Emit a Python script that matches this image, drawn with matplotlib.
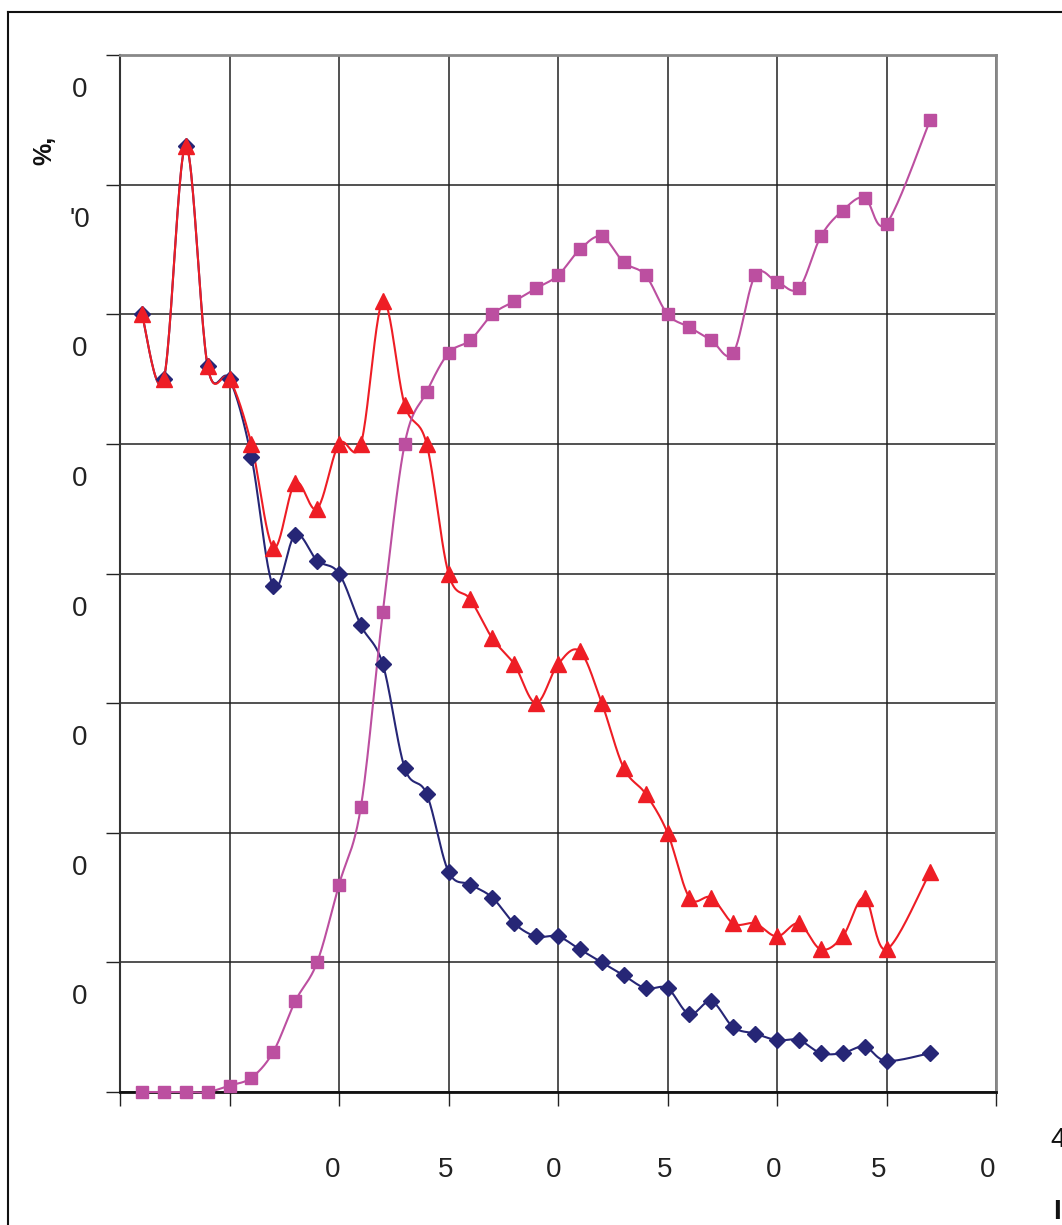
import numpy as np
import matplotlib
matplotlib.use("Agg")
import matplotlib.pyplot as plt
from matplotlib.lines import Line2D
from matplotlib.transforms import blended_transform_factory

# ---------------- data ----------------
x_vals = list(range(1, 36)) + [37]
blue_vals = [60, 55, 73, 56, 55, 49, 39, 43, 41, 40,
             36, 33, 25, 23, 17, 16, 15, 13, 12, 12,
             11, 10, 9, 8, 8, 6, 7, 5, 4.5, 4,
             4, 3, 3, 3.5, 2.4, 3]
red_vals = [60, 55, 73, 56, 55, 50, 42, 47, 45, 50,
            50, 61, 53, 50, 40, 38, 35, 33, 30, 33,
            34, 30, 25, 23, 20, 15, 15, 13, 13, 12,
            13, 11, 12, 15, 11, 17]
magenta_vals = [0, 0, 0, 0, 0.5, 1.1, 3.1, 7, 10, 16,
                22, 37, 50, 54, 57, 58, 60, 61, 62, 63,
                65, 66, 64, 63, 60, 59, 58, 57, 63, 62.5,
                62, 66, 68, 69, 67, 75]
x_ticks = [0, 5, 10, 15, 20, 25, 30, 35, 40]
y_ticks = [0, 10, 20, 30, 40, 50, 60, 70, 80]
x_tick_labels = ["0", "5", "0", "5", "0", "5", "0"]      # shown at x = 10..40
y_tick_labels = ["0", "'0", "0", "0", "0", "0", "0", "0"]  # shown below y = 80..10

plt.rcParams['font.family'] = ['Liberation Sans', 'DejaVu Sans']

W, H = 1062, 1225
fig = plt.figure(figsize=(W / 100, H / 100), dpi=100)
L, R, T, B = 120, 996, 55, 1092
ax = fig.add_axes([L / W, 1 - B / H, (R - L) / W, (B - T) / H])
ax.set_xlim(0, 40)
ax.set_ylim(0, 80)

sx = (R - L) / 40.0
sy = (B - T) / 80.0


def smooth(xs, ys, n=24):
    P = np.column_stack([np.asarray(xs, float) * sx, np.asarray(ys, float) * sy])
    out = []
    m = len(P)
    for i in range(m - 1):
        p0 = P[i - 1] if i > 0 else P[i]
        p1 = P[i]
        p2 = P[i + 1]
        p3 = P[i + 2] if i + 2 < m else P[i + 1]
        c1 = p1 + (p2 - p0) / 6.0
        c2 = p2 - (p3 - p1) / 6.0
        t = np.linspace(0, 1, n, endpoint=(i == m - 2))[:, None]
        seg = ((1 - t) ** 3) * p1 + 3 * ((1 - t) ** 2) * t * c1 + 3 * (1 - t) * t ** 2 * c2 + t ** 3 * p2
        out.append(seg)
    out = np.vstack(out)
    return out[:, 0] / sx, out[:, 1] / sy


c_blue = '#262676'
c_red = '#EE1D25'
c_mag = '#BC4FA0'

series = [
    (blue_vals, c_blue, 'D', 8.5),
    (red_vals, c_red, '^', 11),
    (magenta_vals, c_mag, 's', 8.5),
]
for vals, col, mk, ms in series:
    xs, ys = smooth(x_vals, vals)
    ax.plot(xs, ys, color=col, lw=1.5, zorder=3, clip_on=False)
    ax.plot(x_vals, vals, linestyle='none', marker=mk, ms=ms, color=col,
            markeredgecolor=col, zorder=4, clip_on=False)

ax.set_xticks(x_ticks)
ax.set_yticks(y_ticks)
ax.tick_params(direction='out', length=10, width=1, color='#222222',
               labelleft=False, labelbottom=False)
ax.grid(True, color='#222222', lw=1.1, zorder=1)
ax.set_axisbelow(True)
for s in ['top', 'right']:
    ax.spines[s].set_color('#888888')
    ax.spines[s].set_linewidth(2)
ax.spines['left'].set_color('#333333')
ax.spines['left'].set_linewidth(1.5)
ax.spines['bottom'].set_color('#111111')
ax.spines['bottom'].set_linewidth(2)

# y tick labels (sitting below their gridlines)
ty = blended_transform_factory(fig.transFigure, ax.transData)
for v, lab in zip(y_ticks[::-1][:-1], y_tick_labels):
    ax.text(80 / W, v - 35 / sy, lab, transform=ty, ha='center', va='center',
            fontsize=20, color='#222222')

# x tick labels
x_px = [333, 446, 554, 665, 774, 879, 988]
for px, lab in zip(x_px, x_tick_labels):
    fig.text(px / W, 1 - 1170 / H, lab, ha='center', va='center',
             fontsize=20, color='#222222')

# axis title fragment
fig.text(44 / W, 1 - 150 / H, '%,', rotation=90, ha='center', va='center',
         fontsize=18, fontweight='bold', color='#111111')

# cropped texts at right edge
fig.text(1050 / W, 1 - 1140 / H, '4', ha='left', va='center', fontsize=20, color='#111111')
fig.text(1053 / W, 1 - 1212 / H, 'I', ha='left', va='center', fontsize=20,
         fontweight='bold', color='#111111')

# outer frame (partly cropped)
fig.add_artist(Line2D([8 / W, 8 / W], [0, 1 - 12 / H], transform=fig.transFigure,
                      color='#111111', lw=1.5))
fig.add_artist(Line2D([8 / W, 1], [1 - 12 / H, 1 - 12 / H], transform=fig.transFigure,
                      color='#111111', lw=1.5))

fig.savefig('out.png', dpi=100, facecolor='white')
